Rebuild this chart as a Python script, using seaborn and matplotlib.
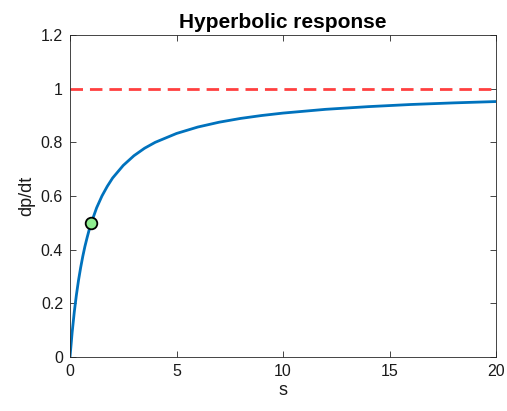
import matplotlib
matplotlib.use("Agg")
import matplotlib.pyplot as plt
import seaborn as sns
import pandas as pd

# Values
s_vals = [0, 0.1, 0.2, 0.3, 0.4, 0.5, 0.6, 0.7, 0.8, 0.9, 1.0, 1.25, 1.5, 1.75, 2.0, 2.5, 3.0,
          3.5, 4.0, 5.0, 6.0, 7.0, 8.0, 9.0, 10.0, 12.0, 14.0, 16.0, 18.0, 20.0]
rate_vals = [0, 0.091, 0.167, 0.231, 0.286, 0.333, 0.375, 0.412, 0.444, 0.474, 0.5, 0.556, 0.6,
             0.636, 0.667, 0.714, 0.75, 0.778, 0.8, 0.833, 0.857, 0.875, 0.889, 0.9, 0.909,
             0.923, 0.933, 0.941, 0.947, 0.952]
asymptote = 1.0
point_s = [1.0]
point_rate = [0.5]
x_ticks = [0, 5, 10, 15, 20]
y_ticks = [0, 0.2, 0.4, 0.6, 0.8, 1.0, 1.2]
y_tick_labels = ["0", "0.2", "0.4", "0.6", "0.8", "1", "1.2"]

sns.set_style("white")
plt.rcParams['font.family'] = ['Liberation Sans', 'DejaVu Sans']

fig = plt.figure(figsize=(5.07, 4.11), dpi=100)
ax = fig.add_axes([70/507, 1 - 357/411, (496-70)/507, (357-35)/411])

df = pd.DataFrame({"s": s_vals, "rate": rate_vals})
sns.lineplot(data=df, x="s", y="rate", ax=ax, color="#0072BD", linewidth=2, sort=False)
ax.axhline(asymptote, color="#FF4040", linestyle=(0, (4.5, 2.5)), linewidth=2)
sns.scatterplot(x=point_s, y=point_rate, ax=ax, s=70, color="#90EE90",
                edgecolor="black", linewidth=1.3, zorder=5)

ax.set_xlim(0, 20)
ax.set_ylim(0, 1.2)
ax.set_xticks(x_ticks)
ax.set_yticks(y_ticks)
ax.set_yticklabels(y_tick_labels)
ax.tick_params(direction="in", length=4, width=0.6, labelsize=11.5, colors="#262626",
               labelcolor="#1a1a1a", top=True, right=True, bottom=True, left=True, pad=5)
for sp in ax.spines.values():
    sp.set_visible(True)
    sp.set_color("#262626")
    sp.set_linewidth(0.6)
ax.set_xlabel("s", fontsize=13, color="#1a1a1a", labelpad=2)
ax.set_ylabel("dp/dt", fontsize=13, color="#1a1a1a", labelpad=4)
ax.set_title("Hyperbolic response", fontsize=15, fontweight="bold", color="black", pad=5)

fig.savefig("out.png", dpi=100)
